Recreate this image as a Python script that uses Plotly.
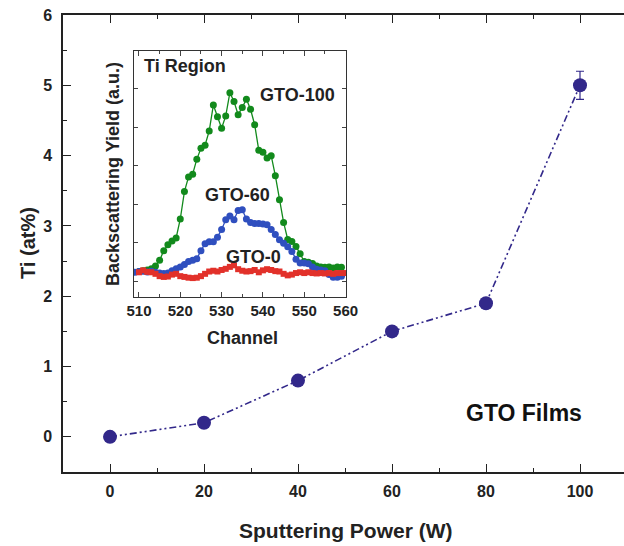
import plotly.graph_objects as go

# Main data
power = [0, 20, 40, 60, 80, 100]
ti_at = [0.0, 0.2, 0.8, 1.5, 1.9, 5.0]
ti_err = [0, 0, 0, 0, 0, 0.2]

# Inset data (channel vs backscattering yield, arbitrary units)
ch_green = list(range(510, 560))
y_green = [1.26, 1.28, 1.30, 1.33, 1.40, 1.55, 1.80, 1.95, 2.05, 2.13,
           2.62, 3.33, 3.71, 3.78, 4.17, 4.45, 4.53, 4.90, 5.57, 5.27,
           4.97, 5.29, 5.89, 5.66, 5.32, 5.51, 5.72, 5.46, 5.06, 4.40,
           4.35, 4.20, 4.26, 3.74, 3.12, 2.53, 2.09, 2.04, 1.91, 1.72,
           1.52, 1.50, 1.47, 1.40, 1.38, 1.37, 1.38, 1.35, 1.38, 1.37]

ch_blue = list(range(509, 560))
y_blue = [1.24, 1.26, 1.27, 1.25, 1.27, 1.24, 1.22, 1.21, 1.22, 1.28,
          1.33, 1.38, 1.44, 1.52, 1.55, 1.59, 1.80, 1.98, 2.03, 2.03,
          2.15, 2.35, 2.60, 2.70, 2.60, 2.84, 2.86, 2.62, 2.53, 2.50,
          2.50, 2.49, 2.47, 2.35, 2.22, 2.08, 1.99, 1.90, 1.78, 1.58,
          1.48, 1.48, 1.46, 1.38, 1.32, 1.30, 1.28, 1.18, 1.11, 1.11,
          1.14]

ch_red = list(range(510, 561))
y_red = [1.24, 1.29, 1.25, 1.24, 1.20, 1.14, 1.12, 1.13, 1.18, 1.20,
         1.14, 1.12, 1.10, 1.09, 1.10, 1.14, 1.20, 1.26, 1.28, 1.26,
         1.30, 1.33, 1.38, 1.42, 1.32, 1.28, 1.26, 1.27, 1.30, 1.24,
         1.29, 1.32, 1.30, 1.27, 1.26, 1.20, 1.16, 1.18, 1.22, 1.24,
         1.22, 1.24, 1.22, 1.21, 1.22, 1.21, 1.22, 1.20, 1.22, 1.22,
         1.22]

FONT = "Liberation Sans"
NAVY = "#32288a"
GREEN = "#128a1c"
BLUE = "#2f4fbf"
RED = "#e2312a"

fig = go.Figure()

fig.add_trace(go.Scatter(
    x=power, y=ti_at, mode="lines+markers",
    line=dict(color=NAVY, width=1.6, dash="7px,3px,2px,3px,2px,3px"),
    marker=dict(color=NAVY, size=14, symbol="circle"),
    error_y=dict(type="data", array=ti_err, color=NAVY, thickness=1.2, width=4),
    xaxis="x", yaxis="y", showlegend=False,
))

fig.add_trace(go.Scatter(
    x=ch_green, y=y_green, mode="lines+markers",
    line=dict(color=GREEN, width=1.3),
    marker=dict(color=GREEN, size=7, symbol="circle"),
    xaxis="x2", yaxis="y2", showlegend=False,
))
fig.add_trace(go.Scatter(
    x=ch_blue, y=y_blue, mode="lines+markers",
    line=dict(color=BLUE, width=1.3),
    marker=dict(color=BLUE, size=7, symbol="circle"),
    xaxis="x2", yaxis="y2", showlegend=False,
))
fig.add_trace(go.Scatter(
    x=ch_red, y=y_red, mode="lines+markers",
    line=dict(color=RED, width=1.3),
    marker=dict(color=RED, size=6, symbol="square"),
    xaxis="x2", yaxis="y2", showlegend=False,
))

W, H = 624, 546
L, R, T, B = 63, 0, 15, 74
pw = W - L - R
ph = H - T - B

def px_x(p):
    return (p - L) / pw

def px_y(p):
    return (H - B - p) / ph

tickfont = dict(family=FONT, size=16, color="#222", weight="bold")
ins_font = dict(family=FONT, size=15, color="#222", weight="bold")

fig.update_layout(
    template="none",
    width=W, height=H,
    margin=dict(l=L, r=R, t=T, b=B, autoexpand=False),
    paper_bgcolor="white", plot_bgcolor="white",
    font=dict(family=FONT, color="#222"),
    xaxis=dict(
        range=[-10, -10 + pw / 4.7], domain=[0, 1], automargin=False,
        tickvals=[0, 20, 40, 60, 80, 100],
        ticks="inside", ticklen=8, tickwidth=1.2, tickcolor="#222",
        minor=dict(tickvals=[10, 30, 50, 70, 90], ticks="inside", ticklen=4, tickcolor="#222", tickwidth=1),
        showline=True, linecolor="#222", linewidth=1.5, mirror="ticks",
        showgrid=False, zeroline=False, tickfont=tickfont, anchor="y",
        ticklabelstandoff=4,
    ),
    yaxis=dict(
        range=[-0.5, 6], domain=[0, 1], automargin=False,
        tickvals=[0, 1, 2, 3, 4, 5, 6],
        ticks="inside", ticklen=8, tickwidth=1.2, tickcolor="#222",
        minor=dict(tickvals=[-0.5, 0.5, 1.5, 2.5, 3.5, 4.5, 5.5], ticks="inside", ticklen=4, tickcolor="#222", tickwidth=1),
        showline=True, linecolor="#222", linewidth=1.5, mirror=False,
        showgrid=False, zeroline=False, tickfont=tickfont, anchor="x",
        ticklabelstandoff=6,
    ),
    xaxis2=dict(
        range=[508.8, 560.1], domain=[px_x(134), px_x(346)], automargin=False,
        tickvals=[510, 520, 530, 540, 550, 560],
        ticks="inside", ticklen=5, tickwidth=1, tickcolor="#444",
        minor=dict(tickvals=[515, 525, 535, 545, 555], ticks="inside", ticklen=3, tickcolor="#444"),
        showline=True, linecolor="#333", linewidth=1, mirror="ticks",
        showgrid=False, zeroline=False, tickfont=ins_font, anchor="y2",
    ),
    yaxis2=dict(
        range=[0.6, 6.97], domain=[px_y(297), px_y(51)], automargin=False,
        tickvals=[1, 2, 3, 4, 5, 6], showticklabels=False,
        ticks="inside", ticklen=4, tickwidth=1, tickcolor="#444",
        showline=True, linecolor="#333", linewidth=1, mirror="ticks",
        showgrid=False, zeroline=False, anchor="x2",
    ),
)

ann = [
    dict(text="Ti (at%)", x=px_x(28), y=px_y(243), textangle=-90,
         font=dict(family=FONT, size=20, color="#222", weight="bold")),
    dict(text="Sputtering Power (W)", x=px_x(346), y=px_y(530),
         font=dict(family=FONT, size=21, color="#222", weight="bold")),
    dict(text="GTO Films", x=px_x(524), y=px_y(413),
         font=dict(family=FONT, size=23, color="#111", weight="bold")),
    dict(text="Backscattering Yield (a.u.)", x=px_x(113), y=px_y(174), textangle=-90,
         font=dict(family=FONT, size=18, color="#222", weight="bold")),
    dict(text="Channel", x=px_x(242), y=px_y(338),
         font=dict(family=FONT, size=18, color="#222", weight="bold")),
    dict(text="Ti Region", x=px_x(142), y=px_y(66), xanchor="left",
         font=dict(family=FONT, size=18, color="#222", weight="bold")),
    dict(text="GTO-100", x=px_x(297), y=px_y(95),
         font=dict(family=FONT, size=18, color="#222", weight="bold")),
    dict(text="GTO-60", x=px_x(237), y=px_y(195),
         font=dict(family=FONT, size=18, color="#222", weight="bold")),
    dict(text="GTO-0", x=px_x(253), y=px_y(257),
         font=dict(family=FONT, size=18, color="#222", weight="bold")),
]
for a in ann:
    a.update(xref="paper", yref="paper", showarrow=False)
    a.setdefault("xanchor", "center")
    a.setdefault("yanchor", "middle")
fig.update_layout(annotations=ann)

fig.write_html("out.html")
